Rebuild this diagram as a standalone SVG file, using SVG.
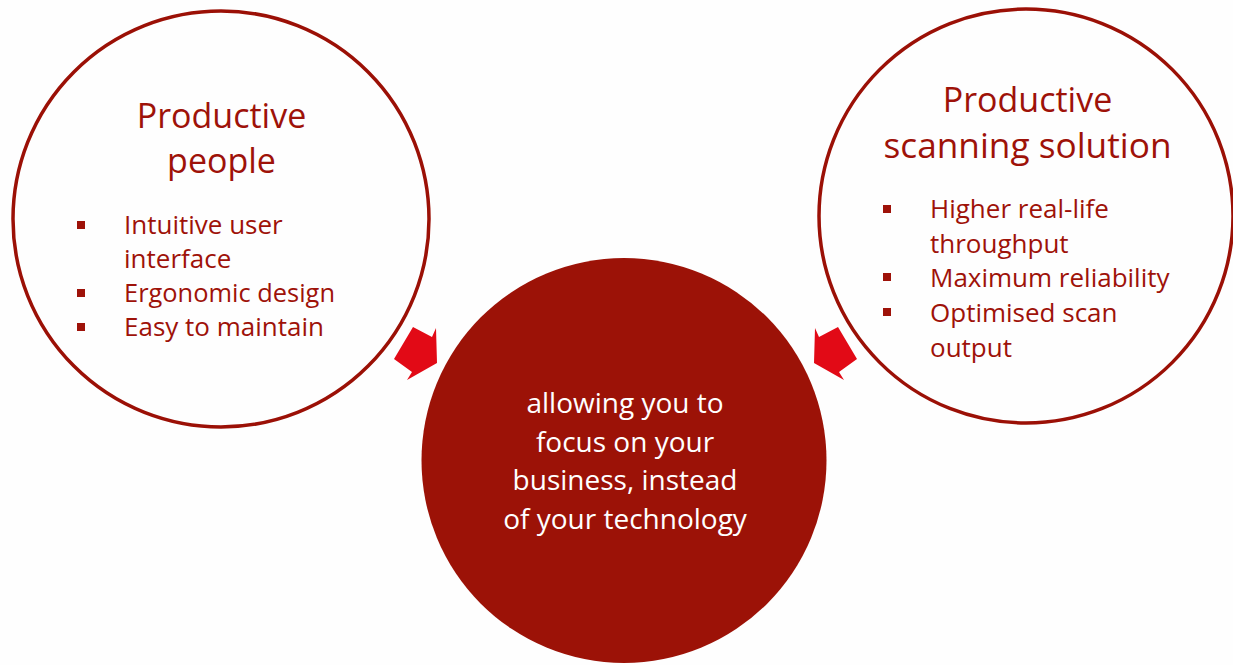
<svg xmlns="http://www.w3.org/2000/svg" width="1233" height="665" viewBox="0 0 1233 665">
<style>
.ring{fill:#fefefe;stroke:#9b1006;stroke-width:3.5}
.core{fill:#9c1207}
.arrow{fill:#e20a16}
.t{font-family:"Open Sans","Noto Sans",sans-serif;fill:#9e1209}
.title{font-size:34px;text-anchor:middle}
.item{font-size:26px}
.bul{fill:#9e1209}
.w{font-family:"Open Sans","Noto Sans",sans-serif;fill:#ffffff;font-size:28px;text-anchor:middle}
</style>
<rect width="1233" height="665" fill="#fefefe"/>
<g id="node-people">
<circle class="ring" cx="221" cy="219" r="208"/>
<text class="t title" x="221.5" y="128">Productive</text>
<text class="t title" x="221.5" y="173">people</text>
<rect class="bul" x="77" y="221" width="8" height="8"/>
<rect class="bul" x="77" y="289" width="8" height="8"/>
<rect class="bul" x="77" y="323" width="8" height="8"/>
<text class="t item" x="124" y="234">Intuitive user</text>
<text class="t item" x="124" y="268">interface</text>
<text class="t item" x="124" y="302" textLength="211" lengthAdjust="spacingAndGlyphs">Ergonomic design</text>
<text class="t item" x="124" y="336">Easy to maintain</text>
</g>
<g id="node-solution">
<circle class="ring" cx="1026" cy="216" r="207"/>
<text class="t title" x="1027.5" y="112">Productive</text>
<text class="t title" x="1027.5" y="158" textLength="288" lengthAdjust="spacingAndGlyphs">scanning solution</text>
<rect class="bul" x="883" y="205" width="8" height="8"/>
<rect class="bul" x="883" y="273" width="8" height="8"/>
<rect class="bul" x="883" y="308" width="8" height="8"/>
<text class="t item" x="930" y="218">Higher real-life</text>
<text class="t item" x="930" y="253">throughput</text>
<text class="t item" x="930" y="287">Maximum reliability</text>
<text class="t item" x="930" y="322">Optimised scan</text>
<text class="t item" x="930" y="357">output</text>
</g>
<g id="node-focus">
<circle class="core" cx="624" cy="460.5" r="202.5"/>
<text class="w" x="625" y="413">allowing you to</text>
<text class="w" x="625" y="452">focus on your</text>
<text class="w" x="625" y="490">business, instead</text>
<text class="w" x="625" y="529">of your technology</text>
</g>
<g id="connectors">
<polygon class="arrow" points="413,327 432,337 436,328 437,363 407,380 412,372 394,359"/>
<polygon class="arrow" points="838,327 819,337 815,328 814,363 844,380 839,372 857,359"/>
</g>
</svg>
